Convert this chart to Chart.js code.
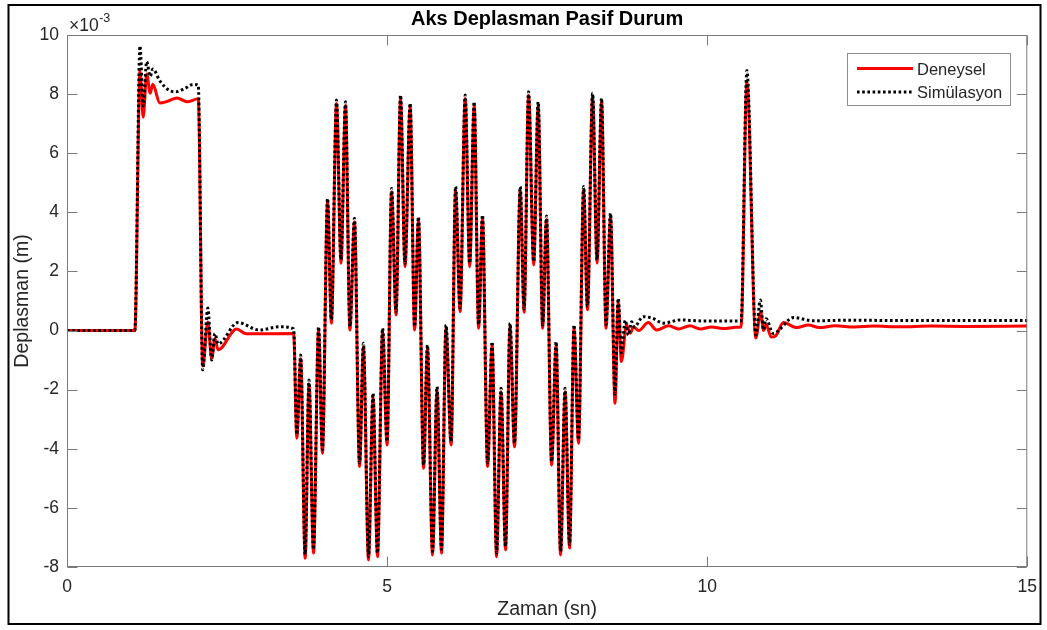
<!DOCTYPE html>
<html>
<head>
<meta charset="utf-8">
<title>Aks Deplasman Pasif Durum</title>
<script src="https://cdn.jsdelivr.net/npm/chart.js@4.4.1/dist/chart.umd.min.js"></script>
<style>
  html, body { margin: 0; padding: 0; background: #ffffff; }
  #wrap { width: 1047px; height: 630px; }
</style>
</head>
<body>
<div id="wrap"><canvas id="c" width="1047" height="630"></canvas></div>
<script>
// Zaman (sn) and displacement (x10^-3 m) for the measured response
const tDeneysel = [
  0, 1.06, 1.14, 1.19, 1.245, 1.30, 1.34, 1.45, 1.56, 1.72, 1.875, 2.05,
  2.12, 2.20, 2.26, 2.31, 2.36, 2.65, 2.80, 3.54,
  3.59, 3.65, 3.72, 3.78, 3.85, 3.93, 3.99, 4.07, 4.13, 4.21, 4.28, 4.35,
  4.42, 4.49, 4.57, 4.63, 4.71, 4.78, 4.85, 4.93, 5.00, 5.07, 5.14, 5.21,
  5.28, 5.36, 5.43, 5.49, 5.57, 5.63, 5.71, 5.78, 5.85, 5.92, 6.00, 6.07,
  6.14, 6.22, 6.29, 6.36, 6.43, 6.49, 6.57, 6.64, 6.71, 6.78, 6.85, 6.92,
  6.99, 7.08, 7.14, 7.21, 7.29, 7.36, 7.43, 7.49, 7.57, 7.64, 7.71, 7.78,
  7.85, 7.92, 7.99, 8.07, 8.13, 8.21, 8.28, 8.35, 8.42, 8.49, 8.56, 8.61,
  8.66, 8.74, 8.80, 8.85, 8.93, 9.08, 9.21, 9.40, 9.55, 9.73, 9.89, 10.07,
  10.25, 10.45, 10.53, 10.62, 10.76, 10.835, 10.88, 10.92, 11.00, 11.07,
  11.19, 11.40, 11.58, 11.75, 12.00, 12.30, 12.60, 13.00, 13.50, 14.00, 15.00
];
const yDeneysel = [
  0, 0, 8.78, 7.22, 8.68, 8.03, 8.33, 7.70, 7.75, 7.87, 7.74, 7.84,
  -1.20, 0.29, -0.95, -0.28, -0.65, 0.05, -0.11, -0.10,
  -3.64, -0.95, -7.70, -1.80, -7.53, 0.01, -4.15, 4.35, 0.25, 7.68, 2.28, 7.62,
  0.02, 3.68, -4.60, -0.55, -7.76, -2.24, -7.65, -0.04, -3.87, 4.69, 0.53, 7.85,
  2.16, 7.57, 0.02, 3.73, -4.66, -0.61, -7.59, -2.02, -7.53, 0.07, -3.87, 4.75,
  0.64, 7.85, 2.16, 7.62, 0.08, 3.79, -4.60, -0.50, -7.65, -2.07, -7.42, 0.13,
  -3.93, 4.75, 0.62, 7.96, 2.22, 7.62, 0.08, 3.76, -4.55, -0.50, -7.59, -2.07,
  -7.36, 0.07, -3.81, 4.75, 0.70, 7.91, 2.28, 7.74, 0.08, 3.85, -2.46, 0.95,
  -1.05, 0.19, -0.09, 0.12, 0.00, 0.27, 0.02, 0.16, 0.05, 0.16, 0.05, 0.12,
  0.07, 0.11, 0.12, 8.40, -0.25, 0.64, 0.00, 0.20, -0.22, -0.18,
  0.27, 0.10, 0.19, 0.10, 0.16, 0.12, 0.15, 0.13, 0.15, 0.14, 0.15
];

// Zaman (sn) and displacement (x10^-3 m) for the simulation
const tSimulasyon = [
  0, 1.06, 1.14, 1.19, 1.245, 1.30, 1.34, 1.45, 1.60, 1.70, 1.85, 1.97, 2.05,
  2.12, 2.20, 2.26, 2.31, 2.36, 2.67, 3.00, 3.33, 3.54,
  3.59, 3.65, 3.72, 3.78, 3.85, 3.93, 3.99, 4.07, 4.13, 4.21, 4.28, 4.35,
  4.42, 4.49, 4.57, 4.63, 4.71, 4.78, 4.85, 4.93, 5.00, 5.07, 5.14, 5.21,
  5.28, 5.36, 5.43, 5.49, 5.57, 5.63, 5.71, 5.78, 5.85, 5.92, 6.00, 6.07,
  6.14, 6.22, 6.29, 6.36, 6.43, 6.49, 6.57, 6.64, 6.71, 6.78, 6.85, 6.92,
  6.99, 7.08, 7.14, 7.21, 7.29, 7.36, 7.43, 7.49, 7.57, 7.64, 7.71, 7.78,
  7.85, 7.92, 7.99, 8.07, 8.13, 8.21, 8.28, 8.35, 8.42, 8.49, 8.56, 8.61,
  8.66, 8.72, 8.77, 8.82, 8.86, 9.00, 9.14, 9.32, 9.58, 9.84, 10.20, 10.53,
  10.62, 10.76, 10.83, 10.88, 10.92, 11.03, 11.35, 11.66, 12.20, 13.00, 14.00, 15.00
];
const ySimulasyon = [
  0, 0, 9.63, 7.60, 9.10, 8.60, 8.85, 8.45, 8.12, 8.08, 8.20, 8.33, 8.30,
  -1.33, 0.76, -1.00, -0.10, -0.45, 0.27, 0.02, 0.13, 0.06,
  -3.52, -0.83, -7.58, -1.67, -7.41, 0.13, -4.03, 4.47, 0.37, 7.80, 2.40, 7.74,
  0.14, 3.80, -4.48, -0.43, -7.64, -2.12, -7.53, 0.08, -3.75, 4.81, 0.65, 7.97,
  2.28, 7.69, 0.14, 3.85, -4.54, -0.49, -7.47, -1.90, -7.41, 0.19, -3.75, 4.87,
  0.76, 7.97, 2.28, 7.74, 0.20, 3.91, -4.48, -0.38, -7.53, -1.95, -7.30, 0.25,
  -3.81, 4.87, 0.74, 8.08, 2.34, 7.74, 0.20, 3.88, -4.43, -0.38, -7.47, -1.95,
  -7.24, 0.19, -3.69, 4.87, 0.82, 8.03, 2.40, 7.86, 0.20, 3.97, -2.15, 1.09,
  -0.75, 0.35, -0.15, 0.30, 0.12, 0.47, 0.42, 0.25, 0.36, 0.33, 0.32, 0.33,
  8.80, -0.15, 1.03, 0.02, 0.40, -0.10, 0.44, 0.33, 0.35, 0.34, 0.34, 0.34
];

// Axis tick labels
const xTicks = [0, 5, 10, 15];
const yTicks = [-8, -6, -4, -2, 0, 2, 4, 6, 8, 10];

const FONT = "'Liberation Sans', Arial, Helvetica, sans-serif";
const TEXT = '#262626';
const AXIS = '#7a7a7a';

const toPoints = (ts, ys) => ts.map((t, i) => ({ x: t, y: ys[i] }));

// Axes box with inward ticks, legend, title, exponent and figure border
const frame = {
  id: 'frame',
  beforeDraw(chart) {
    const ctx = chart.ctx;
    ctx.save();
    ctx.fillStyle = '#ffffff';
    ctx.fillRect(0, 0, chart.width, chart.height);
    ctx.restore();
  },
  afterDatasetsDraw(chart) {
    const { ctx, chartArea: a, scales: { x, y } } = chart;
    ctx.save();
    ctx.strokeStyle = AXIS;
    ctx.lineWidth = 1;
    const L = a.left + 0.5, R = a.right - 0.5, T = a.top + 0.5, B = a.bottom - 0.5;
    ctx.strokeRect(L, T, R - L, B - T);
    const tl = 10;
    ctx.beginPath();
    xTicks.forEach(v => {
      const px = Math.round(x.getPixelForValue(v)) + 0.5;
      ctx.moveTo(px, B); ctx.lineTo(px, B - tl);
      ctx.moveTo(px, T); ctx.lineTo(px, T + tl);
    });
    yTicks.forEach(v => {
      const py = Math.round(y.getPixelForValue(v)) + 0.5;
      ctx.moveTo(L, py); ctx.lineTo(L + tl, py);
      ctx.moveTo(R, py); ctx.lineTo(R - tl, py);
    });
    ctx.stroke();

    // legend
    const lx = 847.5, ly = 53.5, lw = 163, lh = 52;
    ctx.fillStyle = '#ffffff';
    ctx.fillRect(lx, ly, lw, lh);
    ctx.strokeStyle = '#8f8f8f';
    ctx.strokeRect(lx, ly, lw, lh);
    ctx.lineWidth = 3;
    ctx.strokeStyle = '#ff0000';
    ctx.beginPath(); ctx.moveTo(857, 68.5); ctx.lineTo(913, 68.5); ctx.stroke();
    ctx.strokeStyle = '#000000';
    ctx.setLineDash([2.6, 2.6]);
    ctx.beginPath(); ctx.moveTo(857, 92); ctx.lineTo(913, 92); ctx.stroke();
    ctx.setLineDash([]);
    ctx.fillStyle = TEXT;
    ctx.font = '16.5px ' + FONT;
    ctx.textAlign = 'left';
    ctx.textBaseline = 'middle';
    ctx.fillText('Deneysel', 917, 70);
    ctx.fillText('Simülasyon', 917, 93);
    ctx.restore();
  },
  afterDraw(chart) {
    const { ctx, chartArea: a } = chart;
    ctx.save();
    // title
    ctx.fillStyle = '#000000';
    ctx.font = 'bold 20px ' + FONT;
    ctx.textAlign = 'center';
    ctx.textBaseline = 'alphabetic';
    ctx.fillText('Aks Deplasman Pasif Durum', (a.left + a.right) / 2, 25);
    // exponent of the y axis
    ctx.fillStyle = TEXT;
    ctx.textAlign = 'left';
    ctx.font = '17.5px ' + FONT;
    ctx.fillText('\u00d710', 69, 31);
    const w = ctx.measureText('\u00d710').width;
    ctx.font = '12.5px ' + FONT;
    ctx.fillText('-3', 69 + w + 0.5, 22);
    // figure border
    ctx.strokeStyle = '#000000';
    ctx.lineWidth = 2;
    ctx.strokeRect(8.5, 5, 1032, 619);
    ctx.restore();
  }
};

new Chart(document.getElementById('c'), {
  type: 'line',
  data: {
    datasets: [
      {
        label: 'Deneysel',
        data: toPoints(tDeneysel, yDeneysel),
        borderColor: '#ff0000',
        borderWidth: 3,
        pointRadius: 0,
        cubicInterpolationMode: 'monotone',
        order: 2
      },
      {
        label: 'Simülasyon',
        data: toPoints(tSimulasyon, ySimulasyon),
        borderColor: '#000000',
        borderWidth: 3,
        borderDash: [2.6, 2.6],
        pointRadius: 0,
        cubicInterpolationMode: 'monotone',
        order: 1
      }
    ]
  },
  options: {
    responsive: false,
    devicePixelRatio: 1,
    animation: false,
    events: [],
    layout: { padding: { left: 10, right: 19, top: 35, bottom: 0 } },
    plugins: {
      legend: { display: false },
      title: { display: false },
      tooltip: { enabled: false }
    },
    scales: {
      x: {
        type: 'linear',
        min: 0, max: 15,
        afterBuildTicks: s => { s.ticks = xTicks.map(v => ({ value: v })); },
        afterFit: s => { s.height = 63; },
        grid: { display: false, drawTicks: false },
        border: { display: false },
        ticks: { padding: 10, color: TEXT, font: { family: FONT, size: 17.5 }, maxRotation: 0 },
        title: { display: true, text: 'Zaman (sn)', color: TEXT,
                 font: { family: FONT, size: 19.5 }, padding: { top: 0, bottom: 9 } }
      },
      y: {
        type: 'linear',
        min: -8, max: 10,
        afterBuildTicks: s => { s.ticks = yTicks.map(v => ({ value: v })); },
        afterFit: s => { s.width = 57; },
        grid: { display: false, drawTicks: false },
        border: { display: false },
        ticks: { padding: 8, color: TEXT, font: { family: FONT, size: 17.5 } },
        title: { display: true, text: 'Deplasman (m)', color: TEXT,
                 font: { family: FONT, size: 19.5 }, padding: { top: 1, bottom: 0 } }
      }
    }
  },
  plugins: [frame]
});
</script>
</body>
</html>
